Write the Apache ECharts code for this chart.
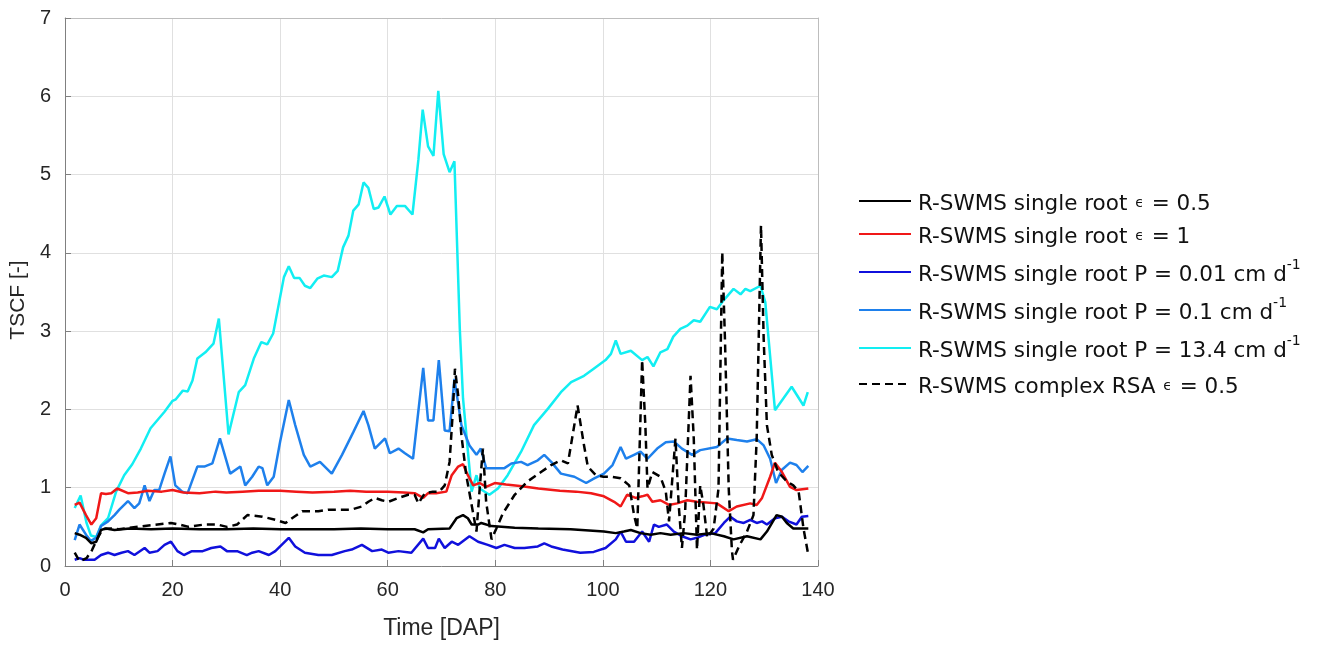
<!DOCTYPE html>
<html>
<head>
<meta charset="utf-8">
<script src="https://cdn.jsdelivr.net/npm/echarts@6/dist/echarts.min.js"></script>
<style>html,body{margin:0;padding:0;background:#fff}#c{width:1338px;height:645px}</style>
</head>
<body>
<div id="c"></div>
<script>
// ---- data ----
const xTicks = [0, 20, 40, 60, 80, 100, 120, 140];
const yTicks = [0, 1, 2, 3, 4, 5, 6, 7];

const blackX = [1.8,2.7,3.9,4.9,5.8,6.7,7.6,9.2,12,16,20,25,30,35,40,45,50,55,60,65,66.6,67.5,71.5,72.8,74.0,74.9,75.6,76.8,77.4,79.3,83.6,88,94,100.2,102.4,103.9,105.2,107.0,108.9,110.7,112.6,115,117.5,120,122.5,124.3,126.8,129.3,130.5,132.3,133.3,134.2,135.4,136.7,138.2];
const blackY = [0.42,0.40,0.36,0.29,0.31,0.46,0.48,0.46,0.48,0.47,0.48,0.47,0.47,0.48,0.47,0.47,0.47,0.48,0.47,0.47,0.43,0.47,0.48,0.61,0.65,0.61,0.53,0.53,0.55,0.51,0.49,0.48,0.47,0.44,0.42,0.44,0.46,0.42,0.40,0.42,0.40,0.42,0.40,0.42,0.38,0.34,0.38,0.34,0.44,0.65,0.63,0.55,0.48,0.48,0.48];

const redX = [1.8,2.7,3.9,4.9,5.8,6.7,7.6,8.6,9.7,11.7,13.5,15.4,18,20,22,25,28,30,33,36,40,43,46,50,53,56,60,63,65,66.6,67.5,69,70.9,71.9,73.1,74.0,74.9,75.9,77.1,78.3,79.9,82,85,88,92,95,97.8,100.2,102.1,103.3,104.5,106.1,107.3,108.3,109.2,110.7,112.3,113.8,115.7,117.5,121.2,123.4,124.9,127.4,128.6,129.6,131.1,132.0,133.3,134.8,136.0,138.2];
const redY = [0.78,0.81,0.65,0.53,0.61,0.93,0.92,0.93,0.99,0.93,0.94,0.96,0.95,0.97,0.94,0.93,0.95,0.94,0.95,0.96,0.96,0.95,0.94,0.95,0.96,0.95,0.95,0.94,0.93,0.87,0.93,0.93,0.95,1.16,1.27,1.30,1.16,1.03,1.06,1.01,1.06,1.04,1.02,0.99,0.96,0.95,0.93,0.89,0.82,0.76,0.91,0.87,0.89,0.91,0.82,0.84,0.78,0.80,0.84,0.82,0.80,0.70,0.76,0.80,0.78,0.87,1.14,1.32,1.20,1.01,0.97,0.99];

const blueX = [1.8,2.7,3.5,4.6,5.5,6.7,8.0,9.2,10.5,11.7,12.9,14.8,15.7,17.2,18.5,19.7,20.9,22.1,23.6,25.6,27.2,28.9,30.1,32.0,33.8,34.8,36.0,37.9,39.1,41.6,42.8,44.6,47.1,49.6,52.0,53.3,55.2,57.1,58.9,60.1,62.0,64.4,66.6,67.5,68.8,69.5,70.6,71.9,73.1,75.2,76.8,78.6,80.2,81.7,83.6,85.4,87.9,89.1,90.4,92.5,95.8,98.3,100.5,102.4,103.3,104.3,105.8,107.3,108.6,109.5,110.4,111.9,113.2,114.7,116.3,117.5,119.0,120.9,122.5,123.7,124.9,126.2,127.4,128.6,129.6,130.5,132.0,133.3,134.5,136.0,137.0,138.2];
const blueY = [0.08,0.10,0.08,0.08,0.08,0.14,0.17,0.14,0.17,0.19,0.14,0.23,0.17,0.19,0.27,0.31,0.19,0.14,0.19,0.19,0.23,0.25,0.19,0.19,0.14,0.17,0.19,0.14,0.19,0.36,0.25,0.17,0.14,0.14,0.19,0.21,0.27,0.19,0.21,0.17,0.19,0.17,0.35,0.23,0.23,0.35,0.23,0.31,0.27,0.38,0.31,0.27,0.23,0.27,0.23,0.23,0.25,0.29,0.25,0.21,0.17,0.18,0.23,0.34,0.44,0.31,0.31,0.44,0.31,0.53,0.50,0.53,0.44,0.38,0.34,0.36,0.40,0.42,0.55,0.63,0.57,0.55,0.59,0.55,0.57,0.53,0.61,0.63,0.57,0.53,0.63,0.64];

const midX = [1.8,2.7,3.9,4.8,5.8,6.7,8.0,9.2,10.1,11.7,12.9,13.8,14.8,15.7,16.6,17.5,18.5,19.6,20.5,21.8,22.8,24.6,25.9,27.4,28.8,30.7,32.6,33.5,34.8,36.0,36.7,37.6,38.8,40.0,41.6,42.8,44.4,45.6,47.4,49.6,51.5,53.6,55.5,56.4,57.6,59.5,60.4,62.0,63.2,64.7,66.6,67.5,68.5,69.5,70.6,71.5,72.4,73.7,75.2,76.5,77.3,78.3,79.8,81.7,83.0,84.8,86.0,87.9,89.1,90.4,92.2,94.7,96.9,98.4,100.2,101.8,103.3,104.3,105.8,107.0,108.3,110.1,111.7,113.2,114.7,116.6,118.1,121.2,123.1,124.9,126.8,128.6,129.9,131.1,132.2,133.3,134.8,136.0,137.1,138.2];
const midY = [0.33,0.53,0.40,0.32,0.36,0.51,0.57,0.65,0.72,0.83,0.74,0.80,1.03,0.83,0.97,0.97,1.18,1.40,1.03,0.95,0.93,1.27,1.27,1.31,1.63,1.18,1.27,1.03,1.14,1.27,1.25,1.03,1.14,1.59,2.12,1.80,1.42,1.27,1.33,1.18,1.42,1.71,1.98,1.80,1.50,1.63,1.44,1.50,1.44,1.37,2.53,1.86,1.86,2.63,1.73,1.72,2.39,1.80,1.54,1.42,1.50,1.25,1.25,1.25,1.31,1.33,1.29,1.35,1.42,1.33,1.18,1.14,1.06,1.12,1.18,1.29,1.52,1.37,1.42,1.46,1.37,1.50,1.58,1.59,1.50,1.42,1.48,1.52,1.63,1.61,1.59,1.62,1.54,1.37,1.06,1.23,1.32,1.29,1.20,1.28];

const cyanX = [1.8,2.9,4.0,4.8,5.8,6.7,8.0,9.5,11.0,12.5,14.1,15.9,18.5,20.0,20.6,21.9,22.8,23.7,24.6,26.1,27.6,28.6,30.4,32.3,33.5,35.1,36.5,37.6,38.7,40.7,41.6,42.6,43.6,44.6,45.6,46.9,48.1,49.6,50.7,51.7,52.7,53.6,54.6,55.5,56.4,57.4,58.3,59.4,60.5,61.7,63.2,64.6,65.7,66.5,67.5,68.5,69.4,70.4,71.5,72.4,73.4,74.0,75.6,76.5,77.1,78.9,80.5,82.3,84.8,87.2,89.8,92.2,94.1,96.5,98.3,100.5,101.5,102.4,103.3,105.2,107.3,108.3,109.4,110.7,112.0,113.1,114.4,115.7,116.9,118.1,119.9,121.2,122.4,124.3,125.6,126.5,127.4,129.3,130.2,132.0,135.1,137.3,138.1];
const cyanY = [0.74,0.90,0.55,0.39,0.37,0.52,0.61,0.95,1.16,1.30,1.50,1.76,1.97,2.11,2.13,2.24,2.23,2.37,2.65,2.73,2.84,3.16,1.68,2.22,2.31,2.65,2.86,2.83,2.97,3.69,3.83,3.68,3.68,3.58,3.55,3.67,3.71,3.69,3.77,4.07,4.22,4.54,4.62,4.90,4.83,4.56,4.58,4.72,4.49,4.60,4.60,4.49,5.19,5.83,5.36,5.24,6.07,5.26,5.03,5.17,3.03,2.14,0.95,1.16,0.99,0.91,0.99,1.16,1.46,1.80,2.01,2.22,2.35,2.43,2.52,2.63,2.71,2.88,2.71,2.75,2.63,2.67,2.55,2.73,2.77,2.93,3.03,3.07,3.14,3.12,3.31,3.28,3.39,3.54,3.47,3.54,3.51,3.58,3.37,1.99,2.29,2.05,2.22];

const rsaX = [1.8,2.7,4.0,5.0,6.0,7.0,8.6,10,13.5,17.2,19.7,21.2,23.0,25.9,28.3,30.1,32.0,33.9,34.2,36.7,39.1,41.0,42.2,44.1,47.1,48.9,51.4,53.2,55.2,56.4,57.6,58.9,60.1,62.0,63.8,65.0,65.7,66.9,68.4,69.6,70.6,71.5,72.1,72.5,73.1,73.7,74.6,75.6,76.5,77.1,77.7,78.3,79.3,80.2,81.4,83.6,86.0,88.5,90.4,92.2,93.5,95.3,96.5,97.2,98.7,100.1,101.5,103.3,104.9,105.8,106.4,107.3,107.9,108.3,109.2,110.7,111.7,112.3,113.5,114.1,114.7,115.3,116.3,116.9,117.5,118.1,118.7,119.4,120.6,121.5,122.2,122.7,123.4,124.0,124.2,125.3,126.8,128.0,128.6,129.4,129.9,130.5,131.4,132.6,134.2,135.4,136.4,137.3,138.2];
const rsaY = [0.17,0.06,0.10,0.20,0.35,0.47,0.48,0.47,0.50,0.53,0.55,0.53,0.50,0.53,0.53,0.50,0.53,0.65,0.67,0.63,0.59,0.55,0.61,0.70,0.70,0.72,0.72,0.72,0.76,0.82,0.87,0.84,0.82,0.87,0.91,0.91,0.80,0.93,0.95,0.95,1.03,1.33,1.97,2.52,2.18,1.67,1.16,0.78,0.44,0.99,1.50,0.82,0.34,0.48,0.67,0.91,1.08,1.20,1.29,1.35,1.31,2.05,1.54,1.27,1.16,1.14,1.14,1.12,1.03,0.65,0.48,2.63,1.80,0.99,1.20,1.14,0.95,0.57,1.63,0.78,0.23,0.70,2.43,1.63,0.21,1.03,0.78,0.36,0.48,0.99,4.01,2.90,0.99,0.19,0.08,0.25,0.44,0.65,1.63,4.35,2.90,1.80,1.42,1.20,1.08,1.03,0.95,0.48,0.14];

const names = [
  'R-SWMS single root ε = 0.5',
  'R-SWMS single root ε = 1',
  'R-SWMS single root P = 0.01 cm d-1',
  'R-SWMS single root P = 0.1 cm d-1',
  'R-SWMS single root P = 13.4 cm d-1',
  'R-SWMS complex RSA ε = 0.5'
];
const legendRich = [
  '{a|R-SWMS single root }{e|ϵ}{a| = 0.5}',
  '{a|R-SWMS single root }{e|ϵ}{a| = 1}',
  '{a|R-SWMS single root P = 0.01 cm d}{s|-1}',
  '{a|R-SWMS single root P = 0.1 cm d}{s|-1}',
  '{a|R-SWMS single root P = 13.4 cm d}{s|-1}',
  '{a|R-SWMS complex RSA }{e|ϵ}{a| = 0.5}'
];
// legend row top positions (px); rows with superscripts are taller
const legendTops = [193, 226, 258, 296, 334, 376];

// ---- chart ----
const FONT = "'Liberation Sans', Arial, Helvetica, sans-serif";
const LFONT = "'DejaVu Sans', 'Liberation Sans', sans-serif";
const colors = ['#000000', '#f01818', '#1010dc', '#1e80ec', '#12eef2', '#000000'];
const xsList = [blackX, redX, blueX, midX, cyanX, rsaX];
const ysList = [blackY, redY, blueY, midY, cyanY, rsaY];

const series = names.map((n, i) => ({
  name: n,
  type: 'line',
  symbol: 'none',
  silent: true,
  animation: false,
  z: i === 5 ? 10 : 5 - i,
  lineStyle: { color: colors[i], width: 2.5, type: i === 5 ? [8, 5] : 'solid' },
  itemStyle: { color: colors[i] },
  data: xsList[i].map((x, k) => [x, ysList[i][k]])
}));

const rich = {
  a: { fontFamily: LFONT, fontSize: 21.5, color: '#111', lineHeight: 28, verticalAlign: 'bottom' },
  e: { fontFamily: LFONT, fontSize: 14, color: '#111', lineHeight: 14, verticalAlign: 'bottom', padding: [0, 1, 5, 1] },
  s: { fontFamily: LFONT, fontSize: 14, color: '#111', lineHeight: 14, verticalAlign: 'top' }
};

const legends = names.map((n, i) => ({
  data: [n],
  left: 858,
  top: legendTops[i],
  orient: 'vertical',
  padding: 0,
  itemWidth: 52,
  itemHeight: 14,
  itemGap: 0,
  selectedMode: false,
  itemStyle: { opacity: 0 },
  lineStyle: { width: 2 },
  formatter: () => legendRich[i],
  textStyle: { rich: rich, padding: [0, 0, 0, 2] }
}));

const chart = echarts.init(document.getElementById('c'), null, { renderer: 'canvas' });
chart.setOption({
  animation: false,
  backgroundColor: '#ffffff',
  grid: { left: 62, top: 18, width: 756, height: 550, containLabel: false },
  legend: legends,
  xAxis: [{
    type: 'value', min: xTicks[0], max: xTicks[xTicks.length - 1], interval: 20,
    name: 'Time [DAP]', nameLocation: 'middle', nameGap: 51,
    nameTextStyle: { fontFamily: FONT, fontSize: 23, color: '#262626' },
    axisLine: { show: true, onZero: false, lineStyle: { color: '#808080', width: 1 } },
    axisTick: { show: true, inside: true, length: 6, lineStyle: { color: '#808080' } },
    axisLabel: { fontFamily: FONT, fontSize: 20, color: '#262626', margin: 14 },
    splitLine: { show: true, lineStyle: { color: '#e0e0e0', width: 1 } }
  }, {
    type: 'value', min: 0, max: 140, interval: 20, position: 'top',
    axisLine: { show: true, onZero: false, lineStyle: { color: '#bdbdbd', width: 1 } },
    axisTick: { show: false }, axisLabel: { show: false }, splitLine: { show: false }
  }],
  yAxis: [{
    type: 'value', min: yTicks[0], max: yTicks[yTicks.length - 1], interval: 1,
    name: 'TSCF [-]', nameLocation: 'middle', nameGap: 30, nameRotate: 90,
    nameTextStyle: { fontFamily: FONT, fontSize: 21, color: '#262626', padding: [0, 16, 0, 0] },
    axisLine: { show: true, onZero: false, lineStyle: { color: '#808080', width: 1 } },
    axisTick: { show: true, inside: true, length: 6, lineStyle: { color: '#808080' } },
    axisLabel: { fontFamily: FONT, fontSize: 20, color: '#262626', margin: 14 },
    splitLine: { show: true, lineStyle: { color: '#e0e0e0', width: 1 } }
  }, {
    type: 'value', min: 0, max: 7, interval: 1, position: 'right',
    axisLine: { show: true, onZero: false, lineStyle: { color: '#bdbdbd', width: 1 } },
    axisTick: { show: false }, axisLabel: { show: false }, splitLine: { show: false }
  }],
  series: series
});
</script>
</body>
</html>
